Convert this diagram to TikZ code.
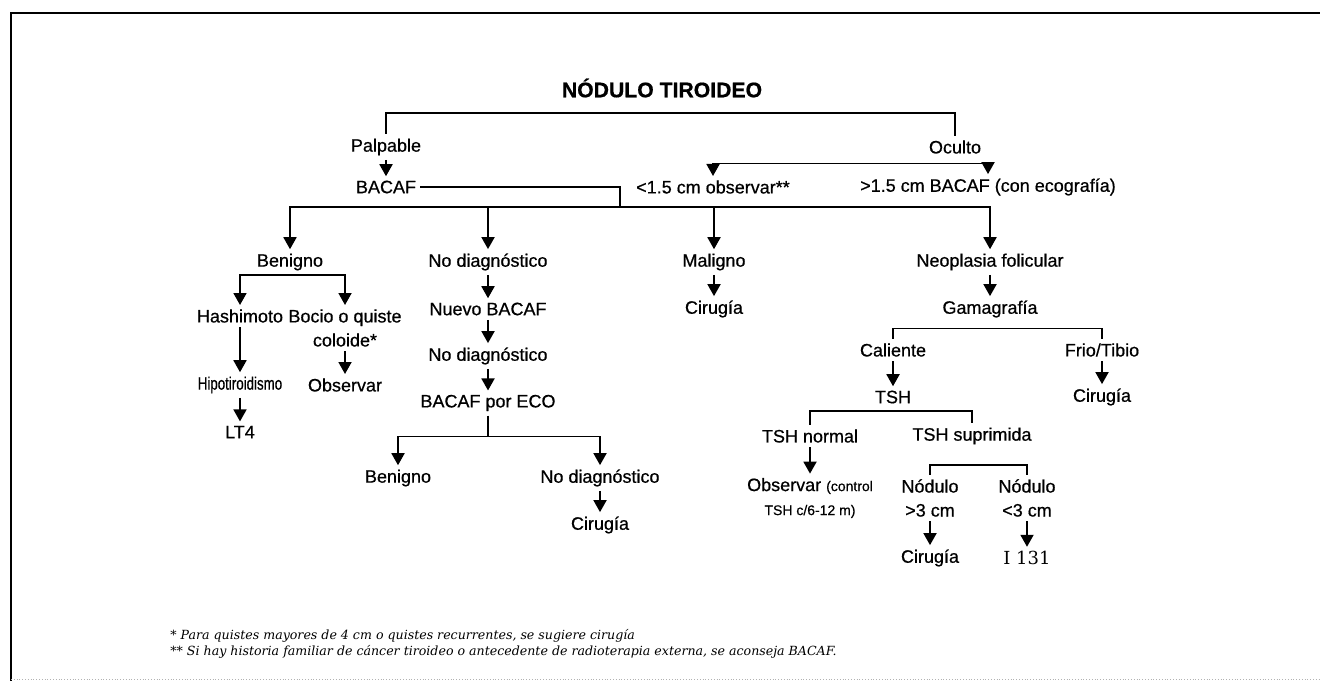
\documentclass[tikz,border=0pt]{standalone}
\usepackage{fontspec}
\setmainfont{Liberation Sans}[FakeBold=0.6]
\newfontfamily\notafont{DejaVu Serif}
\newcommand{\chico}{\fontsize{7}{12}\selectfont}
\usetikzlibrary{positioning}
\usetikzlibrary{arrows.meta}
\tikzset{node distance=23.5pt, % Distance between two steps of a chain
      x=0.5pt, y=-0.5pt, % Pixel-like units, y grows downwards
      every node/.style={ % Sets the properties for each label
      font=\fontsize{9}{12}\selectfont,
      inner sep=2pt,
      align=center},
      titulo/.style={font=\fontsize{10.6}{12}\selectfont\bfseries},
      nota/.style={font=\notafont\itshape\fontsize{6.3}{8}\selectfont, anchor=west},
      rama/.style={line width=0.9pt}, % Bracket lines without heads
      flecha/.style={rama, -{Triangle[width=6.5pt,length=6pt]}},
      every edge/.style={ % Sets the properties for each arrow
            draw,
      -{Triangle[width=6.5pt,length=6pt]}, % Solid arrow heads
      line width=0.9pt}}

\begin{document}
\begin{tikzpicture}
      \useasboundingbox (0,0) rectangle (1320,681);
      % frame
      \draw[line width=1pt] (1320,13) -- (11,13) -- (11,681);
      \draw[gray!60, densely dotted] (11,679) -- (1320,679);

      \node[titulo] (titulo) at (662,88) {NÓDULO TIROIDEO};
      \node (palpable) at (386,147) {Palpable};
      \node[below of=palpable, node distance=20pt] (bacaf) {BACAF};
      \node (oculto) at (955,147) {Oculto};
      \node (menor) at (713,187) {<1.5 cm observar**};
      \node (mayor) at (988,187) {>1.5 cm BACAF (con ecografía)};

      \node (benigno) at (290,262) {Benigno};
      \node (nodiag) at (488,262) {No diagnóstico};
      \node (maligno) at (714,262) {Maligno};
      \node (neoplasia) at (990,262) {Neoplasia folicular};

      \node (hashimoto) at (240,316) {Hashimoto};
      \node (bocio) at (345,328) {Bocio o quiste\\coloide*};
      \node (hipo) at (240,385) {\scalebox{0.74}[1]{Hipotiroidismo}};
      \node[below of=hipo] (lt4) {LT4};
      \node (observar) at (345,385) {Observar};

      \node[below of=nodiag] (nuevo) {Nuevo BACAF};
      \node[below of=nuevo] (nodiagb) {No diagnóstico};
      \node[below of=nodiagb] (eco) {BACAF por ECO};
      \node (benignob) at (398,478) {Benigno};
      \node (nodiagc) at (600,478) {No diagnóstico};
      \node[below of=nodiagc] (cirugiaa) {Cirugía};

      \node[below of=maligno] (cirugiab) {Cirugía};
      \node[below of=neoplasia] (gamagrafia) {Gamagrafía};
      \node (caliente) at (893,350) {Caliente};
      \node (frio) at (1102,350) {Frio/Tibio};
      \node[below of=caliente] (tsh) {TSH};
      \node[below of=frio] (cirugiac) {Cirugía};
      \node (tshnormal) at (810,436) {TSH normal};
      \node (tshsup) at (972,436) {TSH suprimida};
      \node[below of=tshnormal, node distance=31pt] (control) {Observar {\chico(control}\\{\chico TSH c/6-12 m)}};
      \node (nodulomay) at (930,498) {Nódulo\\>3 cm};
      \node (nodulomen) at (1027,498) {Nódulo\\<3 cm};
      \node (cirugiad) at (930,558) {Cirugía};
      \node[font=\notafont\fontsize{9}{12}\selectfont] (yodo) at (1027,558) {I 131};

      \node[nota] (nota1) at (166,636) {* Para quistes mayores de 4 cm o quistes recurrentes, se sugiere cirugía};
      \node[nota] (nota2) at (166,652) {** Si hay historia familiar de cáncer tiroideo o antecedente de radioterapia externa, se aconseja BACAF.};

      % top branches
      \coordinate (cima) at (662,113);
      \draw[rama] (cima) -| (palpable);
      \draw[rama] (cima) -| (oculto);
      \draw (palpable) edge (bacaf);
      \draw[flecha] ([yshift=-2.7pt]oculto.south) -| (menor);
      \draw[flecha] ([yshift=-2.7pt]oculto.south) -| (mayor);

      % results of BACAF
      \coordinate (union) at (620,207);
      \draw[rama] (bacaf) -| (union);
      \draw[flecha] (union) -| (benigno);
      \draw[flecha] (union) -| (nodiag);
      \draw[flecha] (union) -| (maligno);
      \draw[flecha] (union) -| (neoplasia);

      \draw[flecha] (benigno.south) -| (hashimoto);
      \draw[flecha] (benigno.south) -| (bocio);
      \draw (hashimoto) edge (hipo);
      \draw (hipo) edge (lt4);
      \draw (bocio) edge (observar);

      \draw (nodiag) edge (nuevo);
      \draw (nuevo) edge (nodiagb);
      \draw (nodiagb) edge (eco);
      \coordinate[below=10.5pt of eco.south] (reco);
      \draw[rama] (eco) -- (reco);
      \draw[flecha] (reco) -| (benignob);
      \draw[flecha] (reco) -| (nodiagc);
      \draw (nodiagc) edge (cirugiaa);

      \draw (maligno) edge (cirugiab);
      \draw (neoplasia) edge (gamagrafia);
      \draw[rama] ([yshift=-3.3pt]gamagrafia.south) -| (caliente);
      \draw[rama] ([yshift=-3.3pt]gamagrafia.south) -| (frio);
      \draw (caliente) edge (tsh);
      \draw (frio) edge (cirugiac);
      \draw[rama] ([yshift=-1.7pt]tsh.south) -| (tshnormal);
      \draw[rama] ([yshift=-1.7pt]tsh.south) -| (tshsup);
      \draw (tshnormal) edge (control);
      \draw[rama] ([yshift=-8.2pt]tshsup.south) -| (nodulomay);
      \draw[rama] ([yshift=-8.2pt]tshsup.south) -| (nodulomen);
      \draw (nodulomay) edge (cirugiad);
      \draw (nodulomen) edge (yodo);
\end{tikzpicture}
\end{document}
